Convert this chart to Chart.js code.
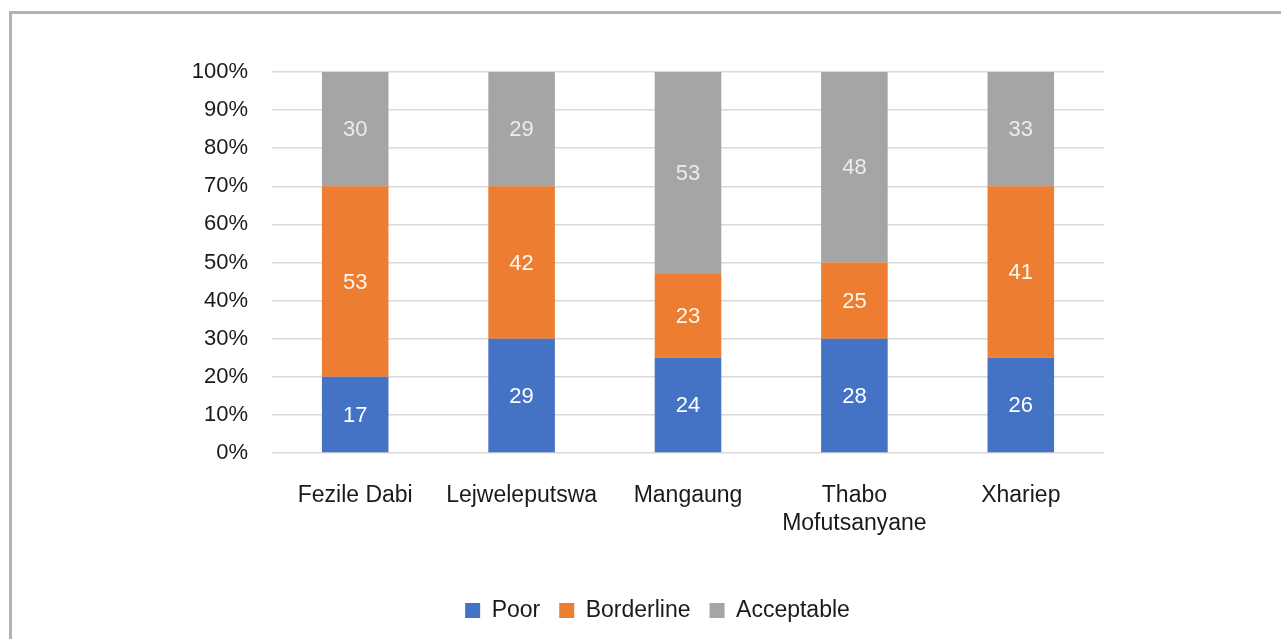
<!DOCTYPE html>
<html>
<head>
<meta charset="utf-8">
<script src="https://cdn.jsdelivr.net/npm/chart.js@4/dist/chart.umd.min.js"></script>
<style>
  html, body { margin: 0; padding: 0; background: #ffffff; }
  #wrap { position: relative; width: 1281px; height: 639px; overflow: hidden; background: #ffffff; }
  #frame { position: absolute; left: 9px; top: 11px; right: -10px; bottom: -10px;
           border-top: 3px solid #b3b3b3; border-left: 3px solid #b3b3b3; pointer-events: none; }
  canvas { position: absolute; left: 0; top: 0; }
</style>
</head>
<body>
<div id="wrap">
  <canvas id="c" width="1281" height="639"></canvas>
  <div id="frame"></div>
</div>
<script>
// Categories (districts)
const categories = ['Fezile Dabi', 'Lejweleputswa', 'Mangaung', ['Thabo', 'Mofutsanyane'], 'Xhariep'];

// Segment heights as drawn (percent of each bar)
const poor       = [20, 30, 25, 30, 25];
const borderline = [50, 40, 22, 20, 45];
const acceptable = [30, 30, 53, 50, 30];

// Data labels printed inside the segments
const poorLabels       = ['17', '29', '24', '28', '26'];
const borderlineLabels = ['53', '42', '23', '25', '41'];
const acceptableLabels = ['30', '29', '53', '48', '33'];

// Y-axis ticks
const yTicks = [0, 10, 20, 30, 40, 50, 60, 70, 80, 90, 100];

const FONT = "'Liberation Sans', Arial, sans-serif";

const segmentLabels = {
  id: 'segmentLabels',
  afterDatasetsDraw(chart) {
    const ctx = chart.ctx;
    ctx.save();
    ctx.font = "22px " + FONT;
    ctx.textAlign = 'center';
    ctx.textBaseline = 'middle';
    chart.data.datasets.forEach((ds, di) => {
      const meta = chart.getDatasetMeta(di);
      meta.data.forEach((bar, i) => {
        const txt = ds.segLabels[i];
        const y = (bar.y + bar.base) / 2;
        ctx.fillStyle = ds.labelColor;
        ctx.fillText(txt, bar.x, y + 1);
      });
    });
    ctx.restore();
  }
};

new Chart(document.getElementById('c'), {
  type: 'bar',
  data: {
    labels: categories,
    datasets: [
      { label: 'Poor', data: poor, backgroundColor: '#4472C4', segLabels: poorLabels, labelColor: '#ffffff' },
      { label: 'Borderline', data: borderline, backgroundColor: '#ED7D31', segLabels: borderlineLabels, labelColor: '#fff6ee' },
      { label: 'Acceptable', data: acceptable, backgroundColor: '#A5A5A5', segLabels: acceptableLabels, labelColor: '#ececec' }
    ]
  },
  options: {
    responsive: false,
    animation: false,
    events: [],
    categoryPercentage: 1.0,
    barPercentage: 0.4,
    layout: { padding: { top: 72, left: 34, right: 0, bottom: 7 } },
    plugins: {
      tooltip: { enabled: false },
      legend: {
        position: 'bottom',
        labels: {
          font: { size: 23, family: FONT },
          color: '#1a1a1a',
          boxWidth: 15,
          boxHeight: 15,
          padding: 19
        }
      }
    },
    scales: {
      x: {
        stacked: true,
        grid: { display: false, drawTicks: false },
        border: { display: false },
        ticks: {
          font: { size: 23, family: FONT, lineHeight: 1.25 },
          color: '#1a1a1a',
          padding: 28,
          maxRotation: 0,
          autoSkip: false
        },
        afterFit(scale) { scale.height = 127; }
      },
      y: {
        stacked: true,
        min: 0,
        max: 100,
        afterBuildTicks(scale) { scale.ticks = yTicks.map(v => ({ value: v })); },
        grid: { color: '#d9d9d9', lineWidth: 1.5, drawTicks: false },
        border: { display: false },
        ticks: {
          font: { size: 22, family: FONT },
          color: '#1a1a1a',
          padding: 24,
          callback: (v) => v + '%'
        },
        afterFit(scale) { scale.width = 238; }
      },
      yRight: {
        position: 'right',
        display: true,
        grid: { display: false, drawTicks: false },
        border: { display: false },
        ticks: { display: false },
        afterFit(scale) { scale.width = 177; }
      }
    }
  },
  plugins: [segmentLabels]
});
</script>
</body>
</html>
